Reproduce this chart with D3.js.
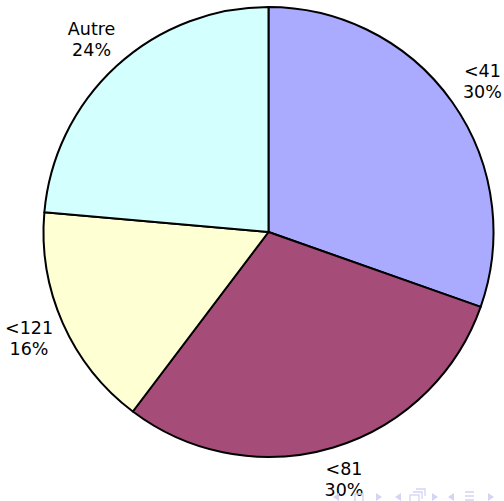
<!DOCTYPE html>
<html>
<head>
<meta charset="utf-8">
<script src="https://cdnjs.cloudflare.com/ajax/libs/d3/7.8.5/d3.min.js"></script>
<style>
  html, body { margin: 0; padding: 0; background: #fff; }
  svg { display: block; }
</style>
</head>
<body>
<div id="chart"></div>
<script>
// slice data, clockwise from 12 o'clock (shares)
var categories = ['<41', '<81', '<121', 'Autre'];
var values = [30.4, 29.9, 16.1, 23.6];
var colors = ['#aaaaff', '#a64c78', '#ffffd4', '#d4ffff'];

var width = 504, height = 501;
var cx = 268.5, cy = 232, radius = 225, labelRadius = 262;

var svg = d3.select('#chart')
  .append('svg')
  .attr('width', width)
  .attr('height', height)
  .attr('font-family', 'DejaVu Sans, Verdana, sans-serif')
  .attr('font-size', 17.5);

var pie = d3.pie().sort(null).value(function(d) { return d; });
var arcs = pie(values);
var arc = d3.arc().innerRadius(0).outerRadius(radius);

var g = svg.append('g').attr('transform', 'translate(' + cx + ',' + cy + ')');

g.selectAll('path')
  .data(arcs)
  .enter().append('path')
    .attr('d', arc)
    .attr('fill', function(d, i) { return colors[i]; })
    .attr('stroke', '#000')
    .attr('stroke-width', 2)
    .attr('stroke-linejoin', 'round');

var labels = g.selectAll('text')
  .data(arcs)
  .enter().append('text')
    .attr('text-anchor', 'middle')
    .attr('fill', '#000')
    .attr('transform', function(d) {
      var a = (d.startAngle + d.endAngle) / 2;
      var x = labelRadius * Math.sin(a);
      var y = Math.min(-labelRadius * Math.cos(a), height - cy - 22); // keep inside the frame
      return 'translate(' + x + ',' + y + ')';
    });

labels.append('tspan')
  .attr('x', 0).attr('y', -4)
  .text(function(d, i) { return categories[i]; });
labels.append('tspan')
  .attr('x', 0).attr('y', 17)
  .text(function(d) { return Math.round(d.value) + '%'; });

// faint beamer navigation symbols, cut off at bottom edge
var nav = svg.append('g').attr('fill', '#d4d4f4').attr('stroke', '#d4d4f4');
var ny = 497;
function triL(x) { nav.append('path').attr('d', 'M' + x + ',' + ny + 'l6,-4v8z').attr('stroke', 'none'); }
function triR(x) { nav.append('path').attr('d', 'M' + x + ',' + ny + 'l-6,-4v8z').attr('stroke', 'none'); }
triL(333);
nav.append('rect').attr('x', 355).attr('y', 494).attr('width', 8).attr('height', 10).attr('fill', 'none').attr('stroke-width', 1.5);
triR(382);
triL(395);
nav.append('rect').attr('x', 410).attr('y', 495).attr('width', 9).attr('height', 8).attr('fill', 'none').attr('stroke-width', 1.3);
nav.append('path').attr('d', 'M413,492h9v7M416,489h9v7').attr('fill', 'none').attr('stroke-width', 1.3);
triR(438);
triL(448);
nav.append('path').attr('d', 'M465,492h9M465,496h9M465,500h9').attr('fill', 'none').attr('stroke-width', 1.5);
triR(494);
</script>
</body>
</html>
